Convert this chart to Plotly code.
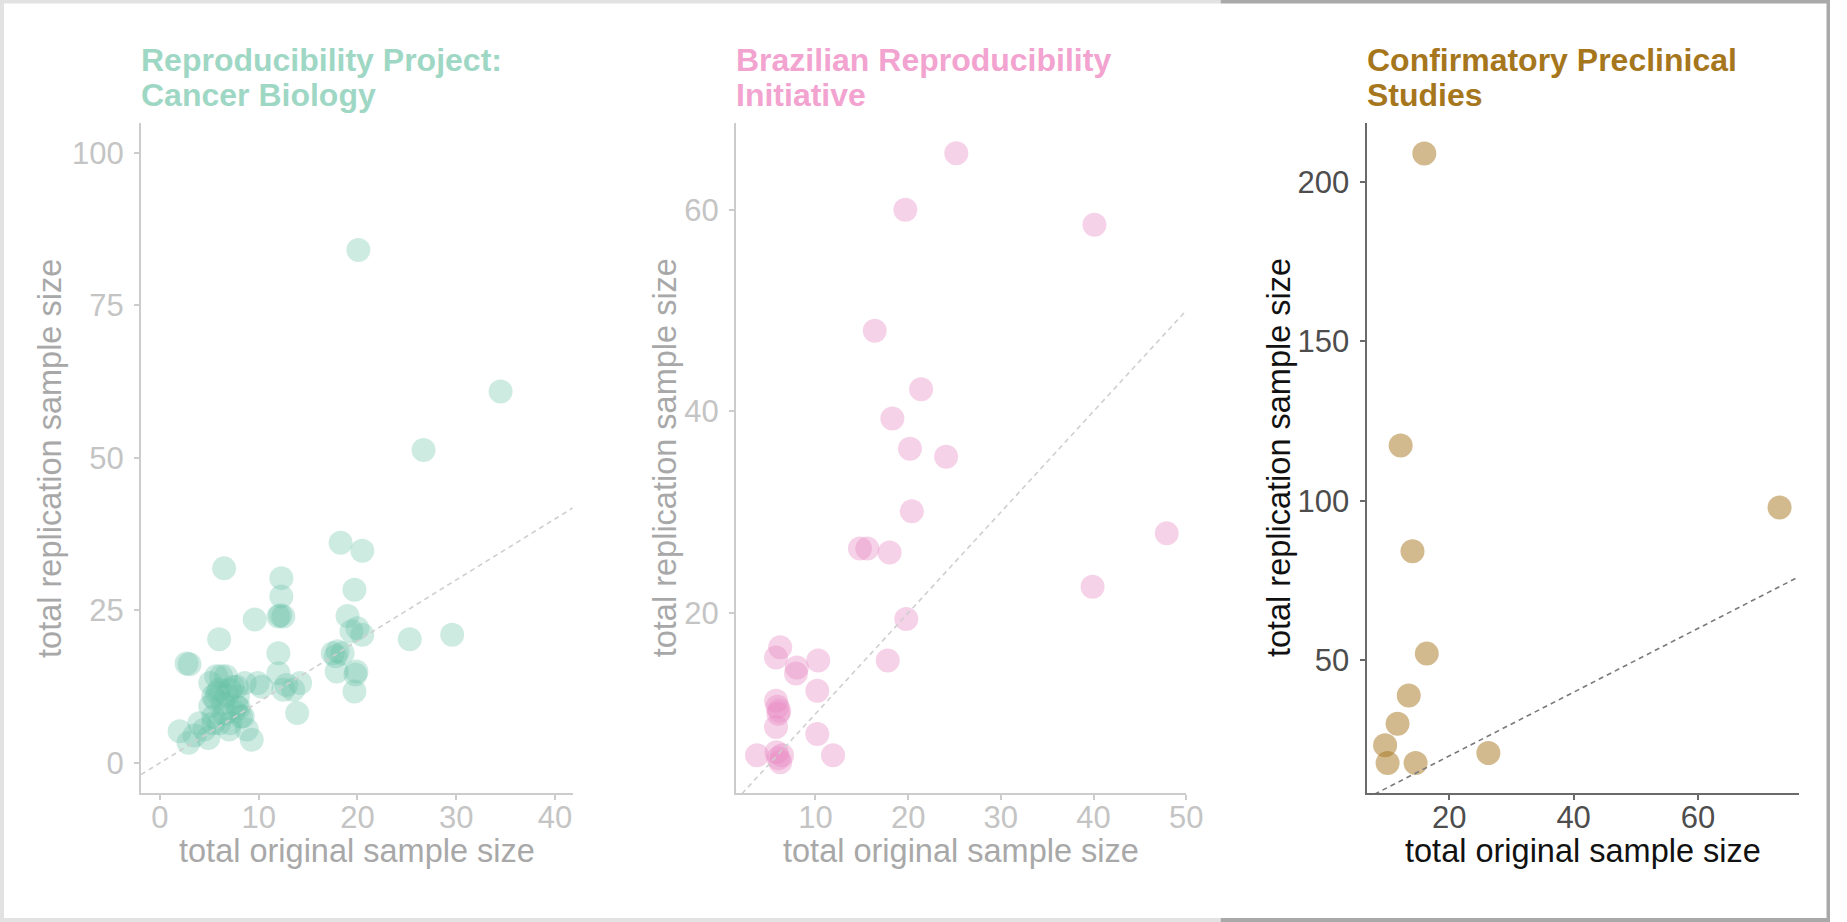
import plotly.graph_objects as go

W, H = 1847, 922
# the photographed page leaves a ~15 px strip at the right edge, so horizontal
# positions are laid out against the width that is actually visible
EFF_W = 1832

# ---------------- data ----------------
# Reproducibility Project: Cancer Biology
rpcb_original = [20.1, 34.5, 26.7, 18.3, 20.5, 6.5, 12.3, 12.3, 19.7, 12.0, 12.5, 12.2,
                 9.6, 19.0, 20.0, 19.4, 20.5, 25.3, 29.6, 6.0, 12.0, 17.5, 18.0, 18.5,
                 17.8, 17.9, 19.9, 19.8, 19.7, 2.7, 3.0, 12.0, 12.8, 14.2, 13.5, 12.5,
                 13.9, 9.9, 10.3, 9.3, 2.0, 2.9, 4.9, 4.0, 5.4, 5.7, 6.7, 5.4, 7.1, 7.8,
                 8.4, 7.1, 7.9, 8.6, 6.4, 5.1, 6.0, 8.8, 5.1, 5.6, 6.2, 7.4, 8.2, 7.0,
                 7.8, 5.4, 6.0, 6.5, 7.5, 4.5, 3.5, 5.8, 6.8, 8.0]
rpcb_replication = [84.1, 60.9, 51.3, 36.1, 34.8, 31.9, 30.3, 27.3, 28.4, 24.0, 24.0, 24.2,
                    23.5, 24.1, 22.1, 21.6, 21.0, 20.3, 21.0, 20.3, 18.0, 18.0, 18.3, 18.0,
                    17.5, 15.0, 15.0, 14.5, 11.7, 16.3, 16.2, 14.7, 12.8, 13.1, 12.0, 12.0,
                    8.2, 13.1, 12.5, 3.8, 5.2, 3.3, 4.1, 6.5, 7.6, 14.2, 14.2, 10.9, 12.0, 9.3,
                    7.6, 6.5, 10.9, 13.1, 9.8, 9.3, 6.5, 5.5, 13.1, 10.4, 14.2, 12.5, 7.6, 5.5,
                    12.5, 6.5, 12.0, 8.0, 8.5, 5.5, 4.5, 11.5, 11.0, 9.0]

# Brazilian Reproducibility Initiative
bri_original = [25.2, 19.7, 40.1, 16.4, 21.4, 18.3, 20.2, 24.1, 20.4, 47.9, 14.8, 15.6,
                18.0, 39.9, 19.8, 6.2, 5.75, 17.8, 10.3, 8.0, 7.9, 10.2, 5.75, 5.9, 6.1,
                6.0, 5.75, 10.2, 3.7, 5.8, 6.0, 6.2, 6.4, 11.9]
bri_replication = [65.6, 60.0, 58.5, 48.0, 42.2, 39.3, 36.3, 35.5, 30.1, 27.9, 26.4, 26.4,
                   26.0, 22.6, 19.4, 16.6, 15.6, 15.3, 15.3, 14.6, 14.0, 12.3, 11.3, 10.7, 10.3,
                   10.0, 8.7, 8.0, 5.9, 6.2, 5.6, 5.2, 5.9, 5.9]

# Confirmatory Preclinical Studies
cps_original = [16.0, 12.2, 73.1, 14.1, 16.4, 13.5, 11.7, 9.7, 10.1, 14.6, 26.3]
cps_replication = [208.9, 117.4, 97.9, 84.2, 52.1, 39.0, 30.1, 23.4, 17.8, 17.8, 20.9]

titles = [["Reproducibility Project:", "Cancer Biology"],
          ["Brazilian Reproducibility", "Initiative"],
          ["Confirmatory Preclinical", "Studies"]]
x_title = "total original sample size"
y_title = "total replication sample size"

x_ranges = [[-1.91, 41.8], [1.42, 50.0], [6.71, 76.2]]
y_ranges = [[-4.92, 104.9], [2.15, 68.6], [8.39, 218.5]]
x_ticks = [[0, 10, 20, 30, 40], [10, 20, 30, 40, 50], [20, 40, 60]]
y_ticks = [[0, 25, 50, 75, 100], [20, 40, 60], [50, 100, 150, 200]]

# ---------------- styling ----------------
FONT = "Liberation Sans, Arial, sans-serif"
point_colors = ["rgba(102,194,165,0.32)", "rgba(231,138,195,0.38)", "rgba(166,118,29,0.50)"]
title_colors = ["#9fd7c5", "#f2a3cf", "#a6761d"]
axis_line_colors = ["#cccccc", "#cccccc", "#6a6a6a"]
tick_font_colors = ["#c4c4c4", "#c4c4c4", "#4d4d4d"]
axis_title_colors = ["#a8a8a8", "#a8a8a8", "#111111"]
ref_line_colors = ["#cfcfcf", "#cfcfcf", "#7a7a7a"]

x_dom_px = [(141.2, 573.3), (736.7, 1187.5), (1368.0, 1800.8)]
y_dom_px = (123.0, 793.0)
ytitle_x_px = [50.0, 666.0, 1280.5]


def px_x(v):
    return min(v / EFF_W, 1.0)


def px_y(v):
    return 1 - v / H


fig = go.Figure()
series = [(rpcb_original, rpcb_replication), (bri_original, bri_replication),
          (cps_original, cps_replication)]

annotations = []
shapes = []
layout_axes = {}
for i, (xs, ys) in enumerate(series):
    n = "" if i == 0 else str(i + 1)
    xa, ya = "x" + n, "y" + n
    fig.add_trace(go.Scatter(
        x=xs, y=ys, mode="markers", xaxis=xa, yaxis=ya, showlegend=False,
        marker=dict(size=24, color=point_colors[i], line=dict(width=0)),
        hoverinfo="x+y"))
    lo, hi = x_ranges[i]
    fig.add_trace(go.Scatter(
        x=[lo, hi], y=[lo, hi], mode="lines", xaxis=xa, yaxis=ya, showlegend=False,
        line=dict(color=ref_line_colors[i], width=1.6, dash="5px,4px"), hoverinfo="skip"))

    common = dict(showgrid=False, zeroline=False, showline=True, linewidth=2,
                  linecolor=axis_line_colors[i], ticks="outside", ticklen=5, tickwidth=1.5,
                  tickcolor=axis_line_colors[i],
                  tickfont=dict(family=FONT, size=31, color=tick_font_colors[i]),
                  fixedrange=True)
    layout_axes["xaxis" + n] = dict(
        common, domain=[px_x(x_dom_px[i][0]), px_x(x_dom_px[i][1])], range=x_ranges[i],
        tickmode="array", tickvals=x_ticks[i], anchor=ya, ticklabelstandoff=-9)
    layout_axes["yaxis" + n] = dict(
        common, domain=[px_y(y_dom_px[1]), px_y(y_dom_px[0])], range=y_ranges[i],
        tickmode="array", tickvals=y_ticks[i], anchor=xa, ticklabelstandoff=4)

    # panel titles (two lines)
    for j, (line, base) in enumerate(zip(titles[i], [71.0, 106.5])):
        annotations.append(dict(
            text="<b>" + line + "</b>", xref="paper", yref="paper",
            x=px_x(x_dom_px[i][0] - 2), y=px_y(base - 0.3465 * 32),
            xanchor="left", yanchor="middle", showarrow=False,
            font=dict(family=FONT, size=32, color=title_colors[i])))
    # x axis title
    annotations.append(dict(
        text=x_title, xref="paper", yref="paper",
        x=px_x((x_dom_px[i][0] + x_dom_px[i][1]) / 2), y=px_y(862 - 0.3465 * 32.5),
        xanchor="center", yanchor="middle", showarrow=False,
        font=dict(family=FONT, size=32.5, color=axis_title_colors[i])))
    # y axis title
    annotations.append(dict(
        text=y_title, xref="paper", yref="paper", textangle=-90,
        x=px_x(ytitle_x_px[i]), y=px_y((y_dom_px[0] + y_dom_px[1]) / 2),
        xanchor="center", yanchor="middle", showarrow=False,
        font=dict(family=FONT, size=32.5, color=axis_title_colors[i])))

# frame around the picture
light, dark = "#e2e2e2", "#a9a9a9"
frame = [
    (0, 0, 4, H, light), (0, 0, 1222, 3.5, light), (0, 918, 1222, H, light),
    (1222, 0, EFF_W, 3.5, dark), (1222, 918, EFF_W, H, dark), (EFF_W - 3.5, 0, EFF_W, H, dark),
]
for x0, y0, x1, y1, c in frame:
    shapes.append(dict(type="rect", xref="paper", yref="paper",
                       x0=px_x(x0), x1=px_x(x1), y0=px_y(y1), y1=px_y(y0),
                       line=dict(width=0), fillcolor=c, layer="above"))

fig.update_layout(
    width=W, height=H, autosize=False, margin=dict(l=0, r=0, t=0, b=0, pad=0),
    paper_bgcolor="white", plot_bgcolor="white",
    annotations=annotations, shapes=shapes,
    font=dict(family=FONT),
    **layout_axes)

post = (
    "var s=document.createElement('style');"
    "s.innerHTML='html,body{margin:0 !important;padding:0 !important;overflow:hidden !important;}';"
    "document.head.appendChild(s);"
)
fig.write_html("out.html", config={"displayModeBar": False}, post_script=post)
